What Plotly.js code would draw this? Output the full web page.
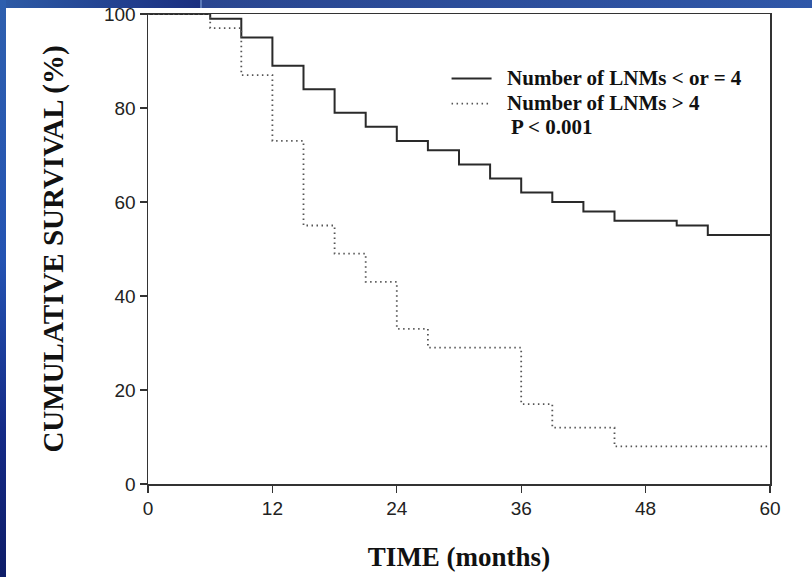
<!DOCTYPE html>
<html>
<head>
<meta charset="utf-8">
<script src="https://cdn.plot.ly/plotly-3.0.1.min.js"></script>
<style>
  html, body { margin:0; padding:0; background:#fff; }
  #wrap { position:relative; width:812px; height:577px; overflow:hidden; }
  #chart { position:absolute; left:0; top:0; width:812px; height:577px; }
  #bandTopL { position:absolute; left:0; top:0; width:200px; height:8px;
    background:linear-gradient(to right,#2d5ba6,#1b2f80); z-index:5; }
  #bandTopR { position:absolute; left:200px; top:0; width:612px; height:8px;
    background:linear-gradient(to right,#2a4690,#2f57a8); z-index:5; border-left:2px solid #5a78b8; }
  #bandLeft { position:absolute; left:0; top:0; width:6px; height:577px;
    background:linear-gradient(to bottom,#2e5fae,#2453b2 45%,#142a86 75%,#0e1d68); z-index:5; }
</style>
</head>
<body>
<div id="wrap">
  <div id="chart"></div>
  <div id="bandTopL"></div>
  <div id="bandTopR"></div>
  <div id="bandLeft"></div>
</div>
<script>
// Survival data (months, cumulative survival %)
var timeLow = [0, 6, 9, 12, 15, 18, 21, 24, 27, 30, 33, 36, 39, 42, 45, 51, 54, 60];
var survLow = [100, 99, 95, 89, 84, 79, 76, 73, 71, 68, 65, 62, 60, 58, 56, 55, 53, 53];
var timeHigh = [0, 6, 9, 12, 15, 18, 21, 24, 27, 36, 39, 45, 60];
var survHigh = [100, 97, 87, 73, 55, 49, 43, 33, 29, 17, 12, 8, 8];
var xTicks = [0, 12, 24, 36, 48, 60];
var yTicks = [0, 20, 40, 60, 80, 100];
var nameLow = "Number of LNMs &lt; or = 4";
var nameHigh = "Number of LNMs &gt; 4";
var pText = "P &lt; 0.001";

function legText(t) {
  return '<span style="font-size:21px">&nbsp;&nbsp;' + t + '</span>';
}

var traces = [
  { x: timeLow, y: survLow, mode: "lines", name: legText(nameLow),
    line: { shape: "hv", color: "#2a2a2a", width: 2 } },
  { x: timeHigh, y: survHigh, mode: "lines", name: legText(nameHigh),
    line: { shape: "hv", color: "#555", width: 1.8, dash: "1.5px,3.5px" } }
];

var axisCommon = {
  showline: true, mirror: true, linecolor: "#333", linewidth: 1.5,
  ticks: "outside", ticklen: 7, tickwidth: 1.2, tickcolor: "#333",
  showgrid: false, zeroline: false,
  tickfont: { family: "Liberation Sans, Arial, sans-serif", size: 19, color: "#222" }
};

var layout = {
  width: 812, height: 577,
  margin: { l: 148, r: 42, t: 14, b: 93 },
  paper_bgcolor: "#fff", plot_bgcolor: "#fff",
  showlegend: true,
  xaxis: Object.assign({}, axisCommon, {
    range: [0, 60], tickvals: xTicks, ticktext: xTicks.map(String),
    title: { text: "TIME (months)", standoff: 29,
      font: { family: "Liberation Serif, Times New Roman, serif", size: 27, color: "#111", weight: "bold" } }
  }),
  yaxis: Object.assign({}, axisCommon, {
    range: [0, 100], tickvals: yTicks, ticktext: yTicks.map(String),
    title: { text: "CUMULATIVE SURVIVAL (%)", standoff: 32,
      font: { family: "Liberation Serif, Times New Roman, serif", size: 29, color: "#111", weight: "bold" } }
  }),
  legend: {
    x: 0.48, y: 0.9, xanchor: "left", yanchor: "top",
    bgcolor: "rgba(0,0,0,0)", borderwidth: 0,
    font: { family: "Liberation Serif, Times New Roman, serif", size: 17, color: "#111", weight: "bold" },
    itemwidth: 40, tracegroupgap: 0
  },
  annotations: [
    { xref: "paper", yref: "paper", x: 0.58, y: 0.76, xanchor: "left", yanchor: "middle",
      text: pText, showarrow: false,
      font: { family: "Liberation Serif, Times New Roman, serif", size: 21, color: "#111", weight: "bold" } }
  ]
};

Plotly.newPlot("chart", traces, layout, { staticPlot: true, displayModeBar: false });
</script>
</body>
</html>
